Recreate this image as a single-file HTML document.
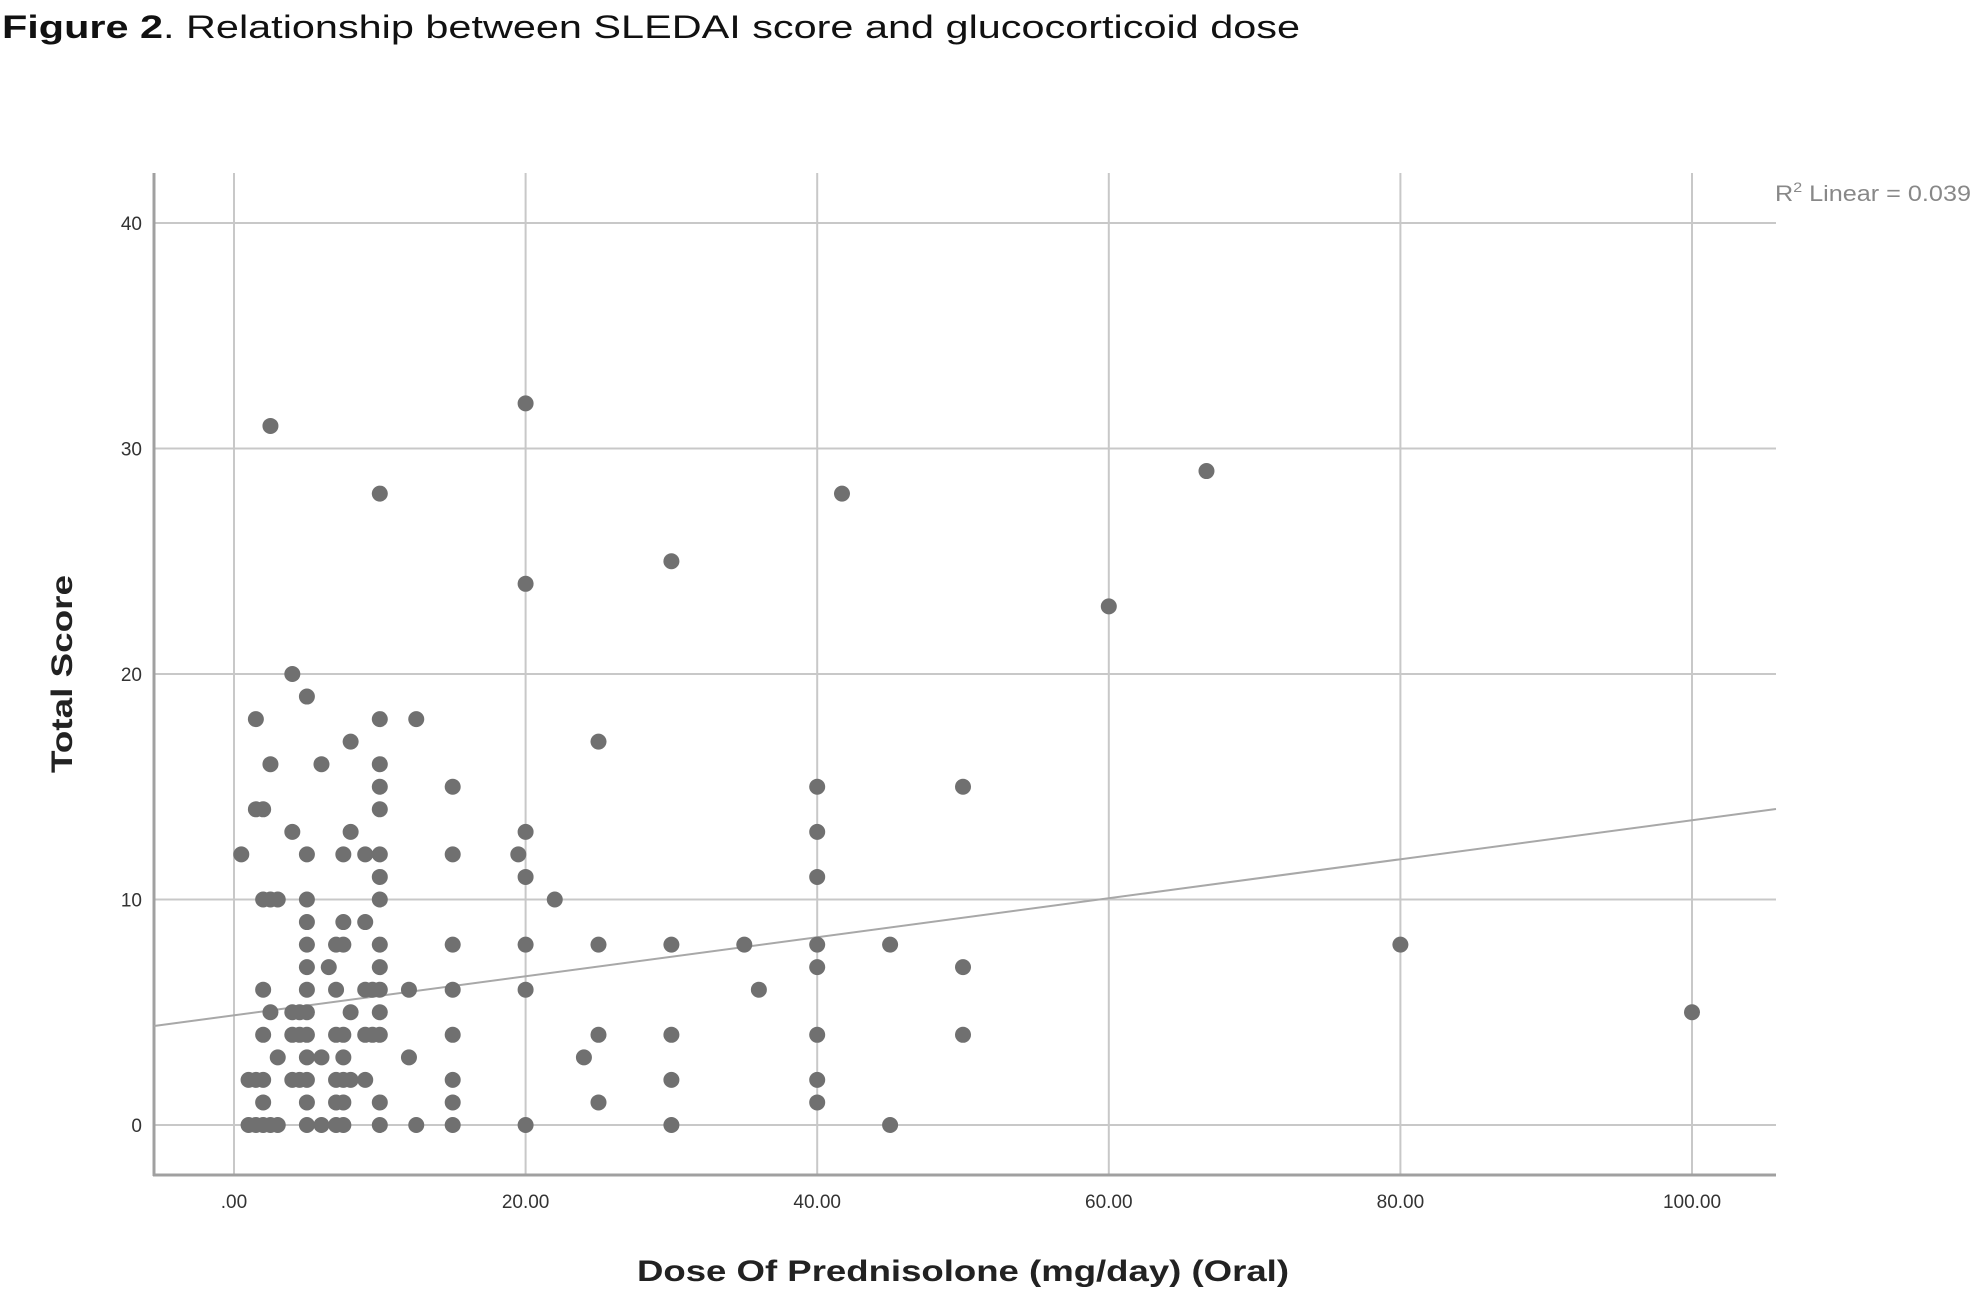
<!DOCTYPE html>
<html><head><meta charset="utf-8"><style>
html,body{margin:0;padding:0;background:#fff;width:1983px;height:1301px;overflow:hidden}
svg{display:block}
</style></head><body>
<svg id="s" width="1983" height="1301" xmlns="http://www.w3.org/2000/svg">
<text x="2" y="38" font-family="Liberation Sans, sans-serif" font-size="32" fill="#111" textLength="1298" lengthAdjust="spacingAndGlyphs"><tspan font-weight="bold">Figure 2</tspan>. Relationship between SLEDAI score and glucocorticoid dose</text>
<g id="grid" stroke="#c8c8c8" stroke-width="2"></g>
<line x1="154" y1="173" x2="154" y2="1176" stroke="#a0a0a0" stroke-width="3"/>
<line x1="153" y1="1175" x2="1776" y2="1175" stroke="#a0a0a0" stroke-width="3"/>
<g id="labels" font-family="Liberation Sans, sans-serif" font-size="19" fill="#333"></g>
<line x1="154" y1="1026" x2="1776" y2="809" stroke="#a8a8a8" stroke-width="2"/>
<g id="pts" fill="#707070"></g>
<text x="1775" y="201" font-family="Liberation Sans, sans-serif" font-size="22" fill="#888" textLength="196" lengthAdjust="spacingAndGlyphs">R<tspan dy="-9" font-size="14">2</tspan><tspan dy="9"> Linear = 0.039</tspan></text>
<text x="963" y="1281" text-anchor="middle" font-family="Liberation Sans, sans-serif" font-size="30" font-weight="bold" fill="#222" textLength="652" lengthAdjust="spacingAndGlyphs">Dose Of Prednisolone (mg/day) (Oral)</text>
<text transform="translate(72,674) rotate(-90)" text-anchor="middle" font-family="Liberation Sans, sans-serif" font-size="30" font-weight="bold" fill="#222" textLength="198" lengthAdjust="spacingAndGlyphs">Total Score</text>
</svg>
<script>
var NS="http://www.w3.org/2000/svg";
function X(x){return 234+14.58*x}function Y(y){return 1125-22.55*y}
function el(p,t,a,txt){var e=document.createElementNS(NS,t);for(var k in a)e.setAttribute(k,a[k]);if(txt!=null)e.textContent=txt;document.getElementById(p).appendChild(e);}
for(var i=0;i<=100;i+=20){el("grid","line",{x1:X(i),x2:X(i),y1:173,y2:1175});
el("labels","text",{x:X(i),y:1208,"text-anchor":"middle"},i==0?".00":i.toFixed(2));}
for(var j=0;j<=40;j+=10){el("grid","line",{x1:154,x2:1776,y1:Y(j),y2:Y(j)});
el("labels","text",{x:142,y:Y(j)+7,"text-anchor":"end"},""+j);}
var d={1:[0,2],1.5:[18,14,0,2],2:[14,6,4,2,1,0,10],2.5:[31,16,5,0,10],3:[3,0,10],4:[20,13,5,4,2],4.5:[5,4,2],
5:[19,12,10,9,8,7,6,5,4,3,2,1,0],6:[16,3,0],6.5:[7],7:[8,6,4,2,1,0],7.5:[12,9,8,4,3,2,1,0],8:[17,13,5,2],9:[12,9,6,4,2],
9.5:[6,4],10:[28,18,16,15,14,12,11,10,8,7,6,5,4,1,0],12:[6,3],12.5:[18,0],15:[15,12,8,6,4,2,1,0],19.5:[12],
20:[32,24,13,11,8,6,0],22:[10],24:[3],25:[17,8,4,1],30:[25,8,4,2,0],35:[8],36:[6],40:[15,13,11,8,7,4,2,1],
41.7:[28],45:[8,0],50:[15,7,4],60:[23],66.7:[29],80:[8],100:[5],0.5:[12]};
for(var k in d){d[k].forEach(function(v){el("pts","circle",{cx:X(+k),cy:Y(v),r:8});});}
</script>
</body></html>
